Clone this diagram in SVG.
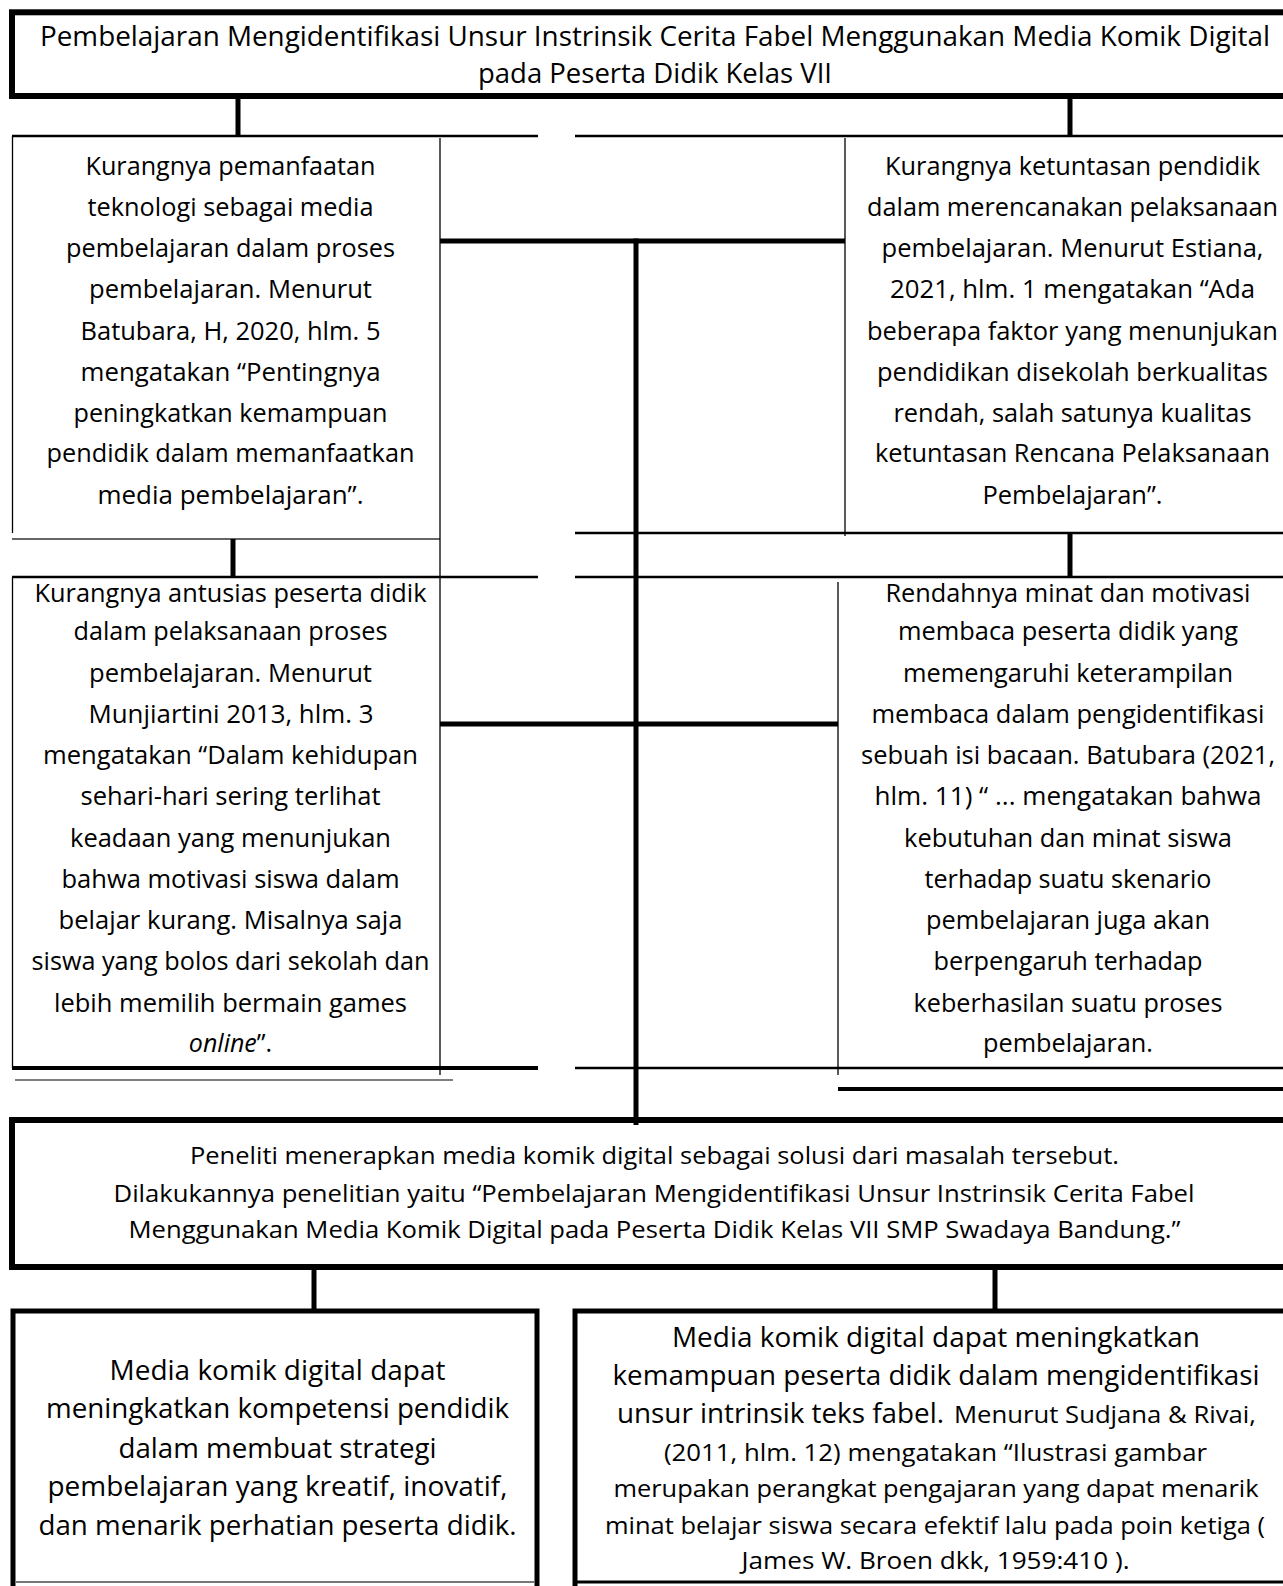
<svg xmlns="http://www.w3.org/2000/svg" width="1283" height="1586" viewBox="0 0 1283 1586">
<style>
text{font-family:"Open Sans","Noto Sans","Liberation Sans",sans-serif;fill:#000;text-anchor:middle}
.b{font-size:25px}
.t{font-size:27px}
.s{font-size:23.5px}
.r{font-size:24px}
.L{font-size:26.5px}
.k{stroke:#000;fill:none;stroke-width:5}
.n{stroke:#000;fill:none;stroke-width:2.5}
.h{stroke:#000;fill:none;stroke-width:1.3}
.g{stroke:#666;fill:none;stroke-width:2}
</style>
<rect width="1283" height="1586" fill="#fff"/>

<g id="title">
<rect x="12" y="12.3" width="1290" height="83.7" fill="none" stroke="#000" stroke-width="6"/>
<text class="t" x="655" y="46" textLength="1230" lengthAdjust="spacingAndGlyphs">Pembelajaran Mengidentifikasi Unsur Instrinsik Cerita Fabel Menggunakan Media Komik Digital</text>
<text class="t" x="655" y="83" textLength="354" lengthAdjust="spacingAndGlyphs">pada Peserta Didik Kelas VII</text>
</g>

<g id="problem1">
<line class="n" x1="12" y1="136" x2="538" y2="136"/>
<line class="h" x1="12.5" y1="136" x2="12.5" y2="533"/>
<line class="g" x1="12" y1="539" x2="440" y2="539"/>
<text class="b" x="230.5" y="175" textLength="290" lengthAdjust="spacingAndGlyphs">Kurangnya pemanfaatan</text>
<text class="b" x="230.5" y="216" textLength="286" lengthAdjust="spacingAndGlyphs">teknologi sebagai media</text>
<text class="b" x="230.5" y="257" textLength="329" lengthAdjust="spacingAndGlyphs">pembelajaran dalam proses</text>
<text class="b" x="230.5" y="298" textLength="283" lengthAdjust="spacingAndGlyphs">pembelajaran. Menurut</text>
<text class="b" x="230.5" y="340" textLength="300" lengthAdjust="spacingAndGlyphs">Batubara, H, 2020, hlm. 5</text>
<text class="b" x="230.5" y="381" textLength="300" lengthAdjust="spacingAndGlyphs">mengatakan “Pentingnya</text>
<text class="b" x="230.5" y="422" textLength="314" lengthAdjust="spacingAndGlyphs">peningkatkan kemampuan</text>
<text class="b" x="230.5" y="462" textLength="368" lengthAdjust="spacingAndGlyphs">pendidik dalam memanfaatkan</text>
<text class="b" x="230.5" y="504" textLength="266" lengthAdjust="spacingAndGlyphs">media pembelajaran”.</text>
</g>

<g id="problem2">
<line class="n" x1="575" y1="136" x2="1283" y2="136"/>
<line class="h" x1="845" y1="138" x2="845" y2="536"/>
<line class="n" x1="575" y1="533" x2="1283" y2="533"/>
<text class="b" x="1072.5" y="175" textLength="375" lengthAdjust="spacingAndGlyphs">Kurangnya ketuntasan pendidik</text>
<text class="b" x="1072.5" y="216" textLength="411" lengthAdjust="spacingAndGlyphs">dalam merencanakan pelaksanaan</text>
<text class="b" x="1072.5" y="257" textLength="382" lengthAdjust="spacingAndGlyphs">pembelajaran. Menurut Estiana,</text>
<text class="b" x="1072.5" y="298" textLength="365" lengthAdjust="spacingAndGlyphs">2021, hlm. 1 mengatakan “Ada</text>
<text class="b" x="1072.5" y="340" textLength="411" lengthAdjust="spacingAndGlyphs">beberapa faktor yang menunjukan</text>
<text class="b" x="1072.5" y="381" textLength="391" lengthAdjust="spacingAndGlyphs">pendidikan disekolah berkualitas</text>
<text class="b" x="1072.5" y="422" textLength="358" lengthAdjust="spacingAndGlyphs">rendah, salah satunya kualitas</text>
<text class="b" x="1072.5" y="462" textLength="395" lengthAdjust="spacingAndGlyphs">ketuntasan Rencana Pelaksanaan</text>
<text class="b" x="1072.5" y="504" textLength="180" lengthAdjust="spacingAndGlyphs">Pembelajaran”.</text>
</g>

<g id="problem3">
<line class="n" x1="12" y1="577" x2="538" y2="577"/>
<line class="h" x1="12.5" y1="577" x2="12.5" y2="1068"/>
<line stroke="#000" stroke-width="4" x1="12" y1="1068" x2="538" y2="1068"/>
<line stroke="#555" stroke-width="1.5" x1="15" y1="1080" x2="453" y2="1080"/>
<text class="b" x="230.5" y="602" textLength="392" lengthAdjust="spacingAndGlyphs">Kurangnya antusias peserta didik</text>
<text class="b" x="230.5" y="640" textLength="314" lengthAdjust="spacingAndGlyphs">dalam pelaksanaan proses</text>
<text class="b" x="230.5" y="682" textLength="283" lengthAdjust="spacingAndGlyphs">pembelajaran. Menurut</text>
<text class="b" x="231" y="723" textLength="285" lengthAdjust="spacingAndGlyphs">Munjiartini 2013, hlm. 3</text>
<text class="b" x="230.5" y="764" textLength="375" lengthAdjust="spacingAndGlyphs">mengatakan “Dalam kehidupan</text>
<text class="b" x="230.5" y="805" textLength="300" lengthAdjust="spacingAndGlyphs">sehari-hari sering terlihat</text>
<text class="b" x="230.5" y="847" textLength="321" lengthAdjust="spacingAndGlyphs">keadaan yang menunjukan</text>
<text class="b" x="230.5" y="888" textLength="338" lengthAdjust="spacingAndGlyphs">bahwa motivasi siswa dalam</text>
<text class="b" x="230.5" y="929" textLength="344" lengthAdjust="spacingAndGlyphs">belajar kurang. Misalnya saja</text>
<text class="b" x="230.5" y="970" textLength="398" lengthAdjust="spacingAndGlyphs">siswa yang bolos dari sekolah dan</text>
<text class="b" x="230.5" y="1012" textLength="353" lengthAdjust="spacingAndGlyphs">lebih memilih bermain games</text>
<text class="b" x="230.5" y="1052"><tspan font-style="italic">online</tspan>”.</text>
</g>

<g id="problem4">
<line class="n" x1="575" y1="577" x2="1283" y2="577"/>
<line class="h" x1="838" y1="582" x2="838" y2="1075"/>
<line class="n" x1="575" y1="1068" x2="1283" y2="1068"/>
<line stroke="#000" stroke-width="4" x1="838" y1="1089" x2="1283" y2="1089"/>
<text class="b" x="1068" y="602" textLength="365" lengthAdjust="spacingAndGlyphs">Rendahnya minat dan motivasi</text>
<text class="b" x="1068" y="640" textLength="340" lengthAdjust="spacingAndGlyphs">membaca peserta didik yang</text>
<text class="b" x="1068" y="682" textLength="330" lengthAdjust="spacingAndGlyphs">memengaruhi keterampilan</text>
<text class="b" x="1068" y="723" textLength="393" lengthAdjust="spacingAndGlyphs">membaca dalam pengidentifikasi</text>
<text class="b" x="1068" y="764" textLength="414" lengthAdjust="spacingAndGlyphs">sebuah isi bacaan. Batubara (2021,</text>
<text class="b" x="1068" y="805" textLength="387" lengthAdjust="spacingAndGlyphs">hlm. 11) “ ... mengatakan bahwa</text>
<text class="b" x="1068" y="847" textLength="328" lengthAdjust="spacingAndGlyphs">kebutuhan dan minat siswa</text>
<text class="b" x="1068" y="888" textLength="287" lengthAdjust="spacingAndGlyphs">terhadap suatu skenario</text>
<text class="b" x="1068" y="929" textLength="284" lengthAdjust="spacingAndGlyphs">pembelajaran juga akan</text>
<text class="b" x="1068" y="970" textLength="269" lengthAdjust="spacingAndGlyphs">berpengaruh terhadap</text>
<text class="b" x="1068" y="1012" textLength="309" lengthAdjust="spacingAndGlyphs">keberhasilan suatu proses</text>
<text class="b" x="1068" y="1052" textLength="170" lengthAdjust="spacingAndGlyphs">pembelajaran.</text>
</g>

<g id="solution">
<rect x="12" y="1120" width="1290" height="147" fill="none" stroke="#000" stroke-width="6"/>
<text class="s" x="654.5" y="1164" textLength="929" lengthAdjust="spacingAndGlyphs">Peneliti menerapkan media komik digital sebagai solusi dari masalah tersebut.</text>
<text class="s" x="654" y="1202" textLength="1081" lengthAdjust="spacingAndGlyphs">Dilakukannya penelitian yaitu “Pembelajaran Mengidentifikasi Unsur Instrinsik Cerita Fabel</text>
<text class="s" x="654.5" y="1238" textLength="1052" lengthAdjust="spacingAndGlyphs">Menggunakan Media Komik Digital pada Peserta Didik Kelas VII SMP Swadaya Bandung.”</text>
</g>

<g id="result1">
<path class="k" d="M13,1590 V1311 H537 V1590"/>
<line stroke="#777" stroke-width="2" x1="15" y1="1582" x2="535" y2="1582"/>
<text class="L" x="277.5" y="1380" textLength="336" lengthAdjust="spacingAndGlyphs">Media komik digital dapat</text>
<text class="L" x="277.5" y="1418" textLength="463" lengthAdjust="spacingAndGlyphs">meningkatkan kompetensi pendidik</text>
<text class="L" x="277.5" y="1458" textLength="318" lengthAdjust="spacingAndGlyphs">dalam membuat strategi</text>
<text class="L" x="277.5" y="1496" textLength="460" lengthAdjust="spacingAndGlyphs">pembelajaran yang kreatif, inovatif,</text>
<text class="L" x="277.5" y="1535" textLength="478" lengthAdjust="spacingAndGlyphs">dan menarik perhatian peserta didik.</text>
</g>

<g id="result2">
<path class="k" d="M575,1590 V1311 H1290"/>
<line stroke="#000" stroke-width="3" x1="575" y1="1582" x2="1283" y2="1582"/>
<text class="L" x="936" y="1347" textLength="528" lengthAdjust="spacingAndGlyphs">Media komik digital dapat meningkatkan</text>
<text class="L" x="936" y="1385" textLength="647" lengthAdjust="spacingAndGlyphs">kemampuan peserta didik dalam mengidentifikasi</text>
<text class="L" x="617" y="1423" style="text-anchor:start" textLength="327" lengthAdjust="spacingAndGlyphs">unsur intrinsik teks fabel.</text>
<text class="r" x="954" y="1423" style="text-anchor:start" textLength="302" lengthAdjust="spacingAndGlyphs">Menurut Sudjana &amp; Rivai,</text>
<text class="r" x="935.5" y="1461" textLength="543" lengthAdjust="spacingAndGlyphs">(2011, hlm. 12) mengatakan “Ilustrasi gambar</text>
<text class="r" x="936" y="1497" textLength="645" lengthAdjust="spacingAndGlyphs">merupakan perangkat pengajaran yang dapat menarik</text>
<text class="r" x="935" y="1534" textLength="660" lengthAdjust="spacingAndGlyphs">minat belajar siswa secara efektif lalu pada poin ketiga (</text>
<text class="r" x="935.5" y="1569" textLength="388" lengthAdjust="spacingAndGlyphs">James W. Broen dkk, 1959:410 ).</text>
</g>

<g id="connectors">
<line class="k" x1="238" y1="96" x2="238" y2="136"/>
<line class="k" x1="1070" y1="96" x2="1070" y2="136"/>
<line class="h" x1="440" y1="138" x2="440" y2="1075"/>
<line class="k" x1="440" y1="241" x2="845" y2="241"/>
<line class="k" x1="636" y1="238.5" x2="636" y2="1125"/>
<line class="k" x1="233" y1="539" x2="233" y2="577"/>
<line class="k" x1="1070" y1="533" x2="1070" y2="577"/>
<line class="k" x1="440" y1="724" x2="838" y2="724"/>
<line class="k" x1="314" y1="1267" x2="314" y2="1311"/>
<line class="k" x1="995" y1="1267" x2="995" y2="1311"/>
</g>
</svg>
